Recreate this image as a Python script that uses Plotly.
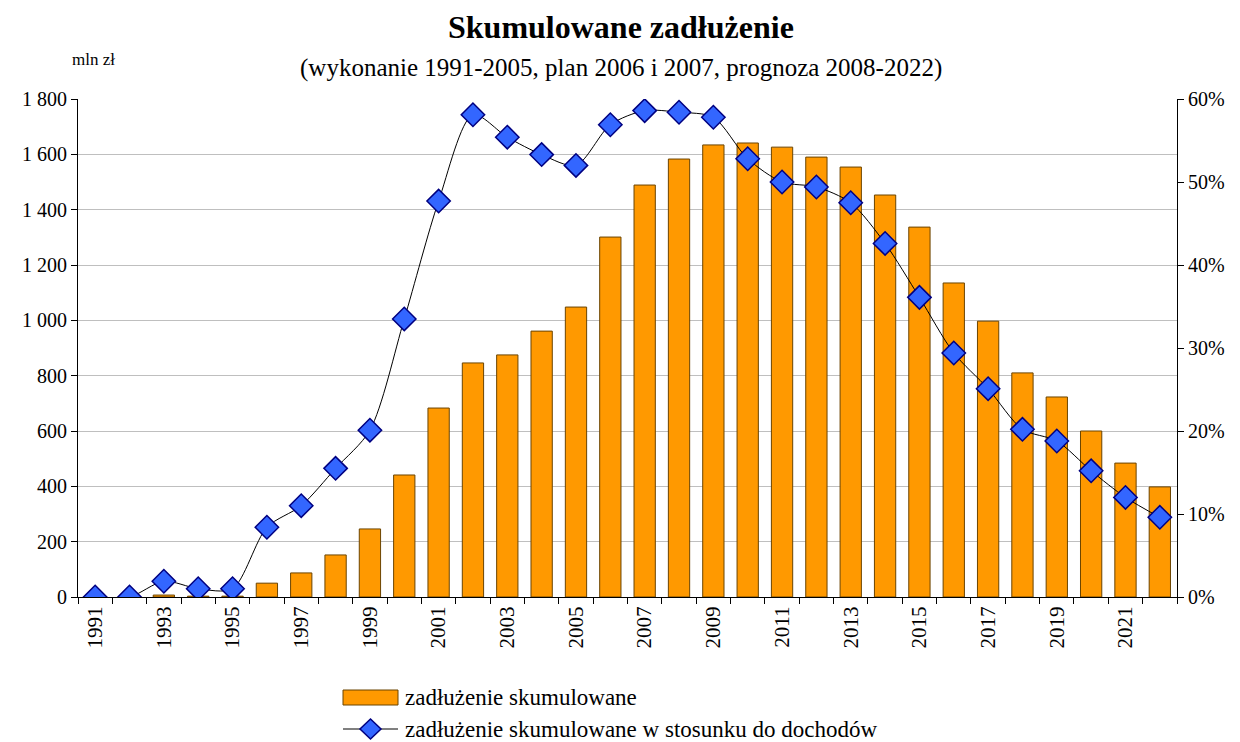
import plotly.graph_objects as go

years = list(range(1991, 2023))
debt = [0, 0, 7, 3, 3, 50, 87, 152, 246, 441, 683, 846, 875, 961, 1048, 1301,
        1489, 1583, 1634, 1641, 1626, 1590, 1554, 1453, 1337, 1135, 997, 810,
        723, 600, 484, 398]
ratio = [0, 0, 1.9, 1.0, 1.0, 8.4, 11.0, 15.5, 20.1, 33.5, 47.7, 58.1, 55.4,
         53.3, 52.0, 56.9, 58.6, 58.4, 57.8, 52.8, 50.0, 49.4, 47.5, 42.6,
         36.1, 29.4, 25.1, 20.2, 18.8, 15.2, 12.0, 9.6]
left_ticks = [0, 200, 400, 600, 800, 1000, 1200, 1400, 1600, 1800]
left_labels = ["0", "200", "400", "600", "800", "1 000", "1 200", "1 400", "1 600", "1 800"]
right_ticks = [0, 10, 20, 30, 40, 50, 60]
right_labels = [f"{v}%" for v in right_ticks]
year_labels = [y for y in years if y % 2 == 1]
series_names = ["zadłużenie skumulowane",
                "zadłużenie skumulowane w stosunku do dochodów"]

FONT = "Liberation Serif"
BAR_COLOR = "#FF9900"
BAR_EDGE = "#6B4400"
DIAMOND = "#3366FF"
DIAMOND_EDGE = "#000080"
W, H = 1240, 742
OFF = 8  # page body margin offset

# plot area in screen pixels
SL, SR, ST, SB = 78, 1177, 99, 597
ml, mt = SL - OFF, ST - OFF
mr, mb = W - (SR - OFF), H - (SB - OFF)
pw, ph = SR - SL, SB - ST


def px(x):
    return (x - SL) / pw


def py(y):
    return (SB - y) / ph


fig = go.Figure()
fig.add_trace(go.Bar(
    x=years, y=debt, name=series_names[0],
    marker=dict(color=BAR_COLOR, line=dict(color=BAR_EDGE, width=1)),
    yaxis="y", showlegend=False,
))
fig.add_trace(go.Scatter(
    x=years, y=ratio, name=series_names[1],
    mode="lines+markers",
    line=dict(color="black", width=1, shape="spline", smoothing=0.8),
    marker=dict(symbol="diamond", size=18, color=DIAMOND,
                line=dict(color=DIAMOND_EDGE, width=1.5)),
    yaxis="y2", showlegend=False,
))

shapes = [
    dict(type="rect", xref="paper", yref="paper",
         x0=px(343), x1=px(398), y0=py(705), y1=py(690),
         fillcolor=BAR_COLOR, line=dict(color=BAR_EDGE, width=1)),
    dict(type="line", xref="paper", yref="paper",
         x0=px(343), x1=px(398), y0=py(729), y1=py(729),
         line=dict(color="black", width=1)),
    dict(type="path", xref="paper", yref="paper",
         path=(f"M {px(370.5)},{py(719)} L {px(381)},{py(729)} "
               f"L {px(370.5)},{py(739)} L {px(360)},{py(729)} Z"),
         fillcolor=DIAMOND, line=dict(color=DIAMOND_EDGE, width=1.5)),
]

fig.update_layout(
    width=W, height=H,
    margin=dict(l=ml, r=mr, t=mt, b=mb),
    plot_bgcolor="white", paper_bgcolor="white",
    font=dict(family=FONT, size=20, color="black"),
    bargap=0.38,
    showlegend=False,
    xaxis=dict(
        range=[1990.5, 2022.5], tickvals=year_labels,
        ticktext=[str(y) for y in year_labels], tickangle=-90,
        ticks="", showgrid=False, showline=True, linecolor="black",
        linewidth=1, zeroline=False, automargin=False,
        minor=dict(ticks="outside", tick0=1990.5, dtick=1, ticklen=6,
                   tickcolor="black", showgrid=False),
        tickfont=dict(family=FONT, size=21),
    ),
    yaxis=dict(
        range=[0, 1800], tickvals=left_ticks, ticktext=left_labels,
        ticks="outside", ticklen=6, tickcolor="black",
        showline=True, linecolor="black", linewidth=1, automargin=False,
        showgrid=True, gridcolor="#BFBFBF", gridwidth=1, zeroline=False,
        tickfont=dict(family=FONT, size=20),
    ),
    yaxis2=dict(
        range=[0, 60], tickvals=right_ticks, ticktext=right_labels,
        overlaying="y", side="right", automargin=False,
        ticks="outside", ticklen=6, tickcolor="black",
        showline=True, linecolor="black", linewidth=1,
        showgrid=False, zeroline=False,
        tickfont=dict(family=FONT, size=20),
    ),
    shapes=shapes,
    annotations=[
        dict(text="<b>Skumulowane zadłużenie</b>", xref="paper", yref="paper",
             x=px(621), y=py(27), xanchor="center", yanchor="middle",
             showarrow=False, font=dict(family=FONT, size=32)),
        dict(text="(wykonanie 1991-2005, plan 2006 i 2007, prognoza 2008-2022)",
             xref="paper", yref="paper", x=px(621), y=py(68),
             xanchor="center", yanchor="middle", showarrow=False,
             font=dict(family=FONT, size=25)),
        dict(text="mln zł", xref="paper", yref="paper", x=px(93), y=py(60),
             xanchor="center", yanchor="middle",
             showarrow=False, font=dict(family=FONT, size=17)),
        dict(text=series_names[0], xref="paper", yref="paper",
             x=px(403), y=py(697), xanchor="left", yanchor="middle",
             showarrow=False, font=dict(family=FONT, size=23)),
        dict(text=series_names[1], xref="paper", yref="paper",
             x=px(403), y=py(729), xanchor="left", yanchor="middle",
             showarrow=False, font=dict(family=FONT, size=23)),
    ],
)

fig.write_html("out.html")
